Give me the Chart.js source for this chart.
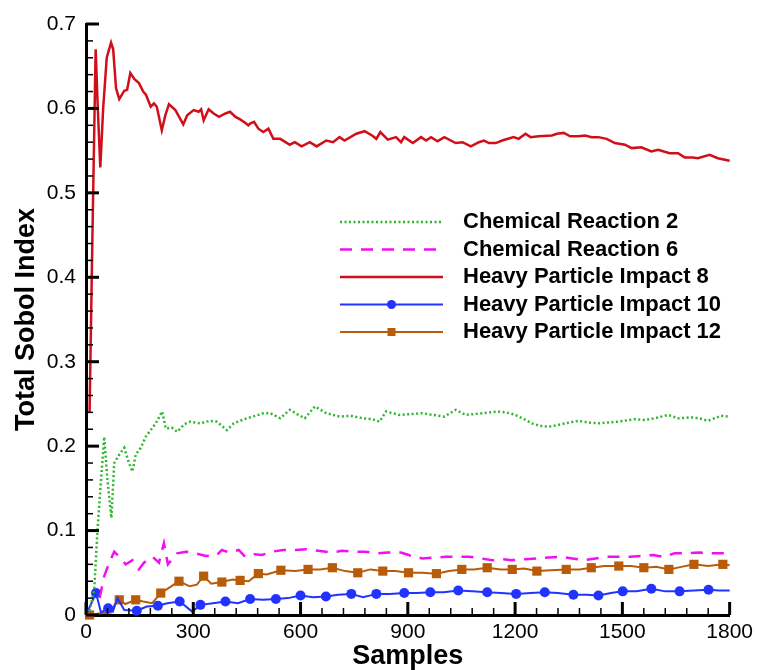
<!DOCTYPE html>
<html>
<head>
<meta charset="utf-8">
<title>Total Sobol Index</title>
<script src="https://cdn.jsdelivr.net/npm/chart.js@4.4.1/dist/chart.umd.min.js"></script>
<style>
    html, body { margin: 0; padding: 0; background: #fff; }
    #wrap { width: 758px; height: 670px; }
</style>
</head>
<body>
<div id="wrap"><canvas id="sobolChart" width="758" height="670"></canvas></div>
<script>
// Series labels
const seriesNames = [
    'Chemical Reaction 2',
    'Chemical Reaction 6',
    'Heavy Particle Impact 8',
    'Heavy Particle Impact 10',
    'Heavy Particle Impact 12'
];

// Axis ticks
const xTicks = [0, 300, 600, 900, 1200, 1500, 1800];
const yTicks = [0, 0.1, 0.2, 0.3, 0.4, 0.5, 0.6, 0.7];

// Chemical Reaction 2
const cr2Samples = [10, 23, 32, 42, 51, 60, 71, 79, 93, 107, 120, 130, 139, 153, 167, 195, 213, 223, 240, 255, 275, 292, 320, 345, 366, 394, 413, 450, 482, 496, 515, 530, 543, 570, 590, 612, 640, 672, 710, 740, 774, 800, 821, 839, 876, 910, 941, 970, 1002, 1034, 1062, 1108, 1150, 1175, 1201, 1225, 1247, 1270, 1294, 1320, 1340, 1377, 1405, 1433, 1460, 1489, 1535, 1560, 1591, 1628, 1656, 1693, 1715, 1739, 1776, 1800];
const cr2Values = [0.005, 0.03, 0.10, 0.16, 0.211, 0.16, 0.115, 0.18, 0.19, 0.198, 0.18, 0.170, 0.19, 0.198, 0.211, 0.227, 0.241, 0.221, 0.222, 0.217, 0.226, 0.229, 0.227, 0.230, 0.229, 0.219, 0.227, 0.233, 0.237, 0.239, 0.239, 0.236, 0.233, 0.243, 0.238, 0.233, 0.247, 0.239, 0.235, 0.236, 0.233, 0.232, 0.229, 0.241, 0.237, 0.238, 0.239, 0.237, 0.235, 0.243, 0.237, 0.239, 0.241, 0.240, 0.237, 0.232, 0.227, 0.224, 0.223, 0.225, 0.227, 0.230, 0.228, 0.227, 0.228, 0.229, 0.232, 0.231, 0.233, 0.237, 0.233, 0.234, 0.233, 0.230, 0.236, 0.235];

// Chemical Reaction 6
const cr6Samples = [38, 51, 65, 79, 93, 111, 130, 148, 162, 186, 204, 218, 229, 255, 280, 306, 335, 366, 380, 400, 427, 445, 470, 492, 520, 552, 585, 617, 650, 686, 715, 747, 780, 812, 845, 881, 910, 941, 975, 1006, 1040, 1071, 1105, 1136, 1165, 1192, 1228, 1261, 1295, 1326, 1360, 1391, 1425, 1456, 1490, 1521, 1555, 1586, 1615, 1646, 1680, 1716, 1750, 1781, 1800];
const cr6Values = [0.02, 0.046, 0.062, 0.075, 0.069, 0.060, 0.065, 0.054, 0.062, 0.069, 0.062, 0.085, 0.060, 0.073, 0.075, 0.073, 0.070, 0.071, 0.077, 0.074, 0.077, 0.069, 0.072, 0.071, 0.075, 0.077, 0.077, 0.078, 0.076, 0.074, 0.076, 0.075, 0.075, 0.073, 0.074, 0.074, 0.070, 0.067, 0.068, 0.069, 0.069, 0.069, 0.067, 0.065, 0.066, 0.065, 0.066, 0.067, 0.068, 0.069, 0.067, 0.065, 0.067, 0.069, 0.069, 0.069, 0.070, 0.071, 0.069, 0.073, 0.073, 0.074, 0.073, 0.073, 0.073];

// Heavy Particle Impact 8
const hpi8Samples = [10, 18, 27, 33, 40, 48, 58, 70, 76, 84, 93, 107, 115, 124, 135, 148, 160, 168, 181, 190, 198, 212, 222, 232, 250, 272, 283, 301, 315, 322, 329, 343, 357, 372, 390, 403, 418, 431, 445, 454, 459, 470, 482, 496, 510, 524, 543, 570, 584, 603, 626, 645, 672, 691, 709, 723, 756, 779, 800, 812, 823, 844, 867, 881, 890, 914, 937, 951, 965, 983, 1002, 1034, 1053, 1076, 1099, 1113, 1127, 1146, 1164, 1196, 1210, 1229, 1243, 1266, 1303, 1317, 1336, 1354, 1377, 1396, 1414, 1433, 1456, 1479, 1507, 1526, 1553, 1581, 1600, 1632, 1656, 1674, 1697, 1711, 1744, 1767, 1800];
const hpi8Values = [0.24, 0.45, 0.67, 0.60, 0.53, 0.60, 0.66, 0.678, 0.67, 0.624, 0.611, 0.621, 0.622, 0.642, 0.635, 0.630, 0.620, 0.616, 0.602, 0.606, 0.602, 0.574, 0.592, 0.605, 0.598, 0.581, 0.592, 0.598, 0.596, 0.599, 0.586, 0.599, 0.594, 0.590, 0.594, 0.596, 0.590, 0.587, 0.583, 0.580, 0.582, 0.584, 0.576, 0.572, 0.576, 0.564, 0.564, 0.557, 0.560, 0.555, 0.560, 0.555, 0.562, 0.560, 0.566, 0.562, 0.570, 0.573, 0.568, 0.564, 0.572, 0.563, 0.566, 0.560, 0.566, 0.559, 0.566, 0.562, 0.566, 0.561, 0.566, 0.559, 0.560, 0.555, 0.560, 0.562, 0.559, 0.559, 0.562, 0.566, 0.564, 0.570, 0.566, 0.567, 0.568, 0.570, 0.571, 0.567, 0.567, 0.568, 0.566, 0.566, 0.564, 0.559, 0.557, 0.553, 0.554, 0.549, 0.551, 0.547, 0.547, 0.542, 0.542, 0.541, 0.545, 0.541, 0.538];

// Heavy Particle Impact 10 (circles on marked samples)
const hpi10Samples = [0, 28, 42, 62, 75, 88, 107, 142, 170, 201, 227, 262, 297, 320, 355, 390, 425, 459, 495, 531, 565, 600, 635, 671, 705, 742, 775, 812, 850, 890, 925, 963, 1000, 1041, 1080, 1122, 1160, 1203, 1243, 1283, 1320, 1363, 1400, 1433, 1468, 1501, 1540, 1581, 1620, 1660, 1700, 1741, 1770, 1800];
const hpi10Values = [0.0, 0.026, 0.003, 0.008, 0.004, 0.020, 0.006, 0.005, 0.010, 0.011, 0.014, 0.016, 0.004, 0.012, 0.014, 0.016, 0.014, 0.019, 0.018, 0.019, 0.020, 0.023, 0.021, 0.022, 0.024, 0.025, 0.021, 0.025, 0.025, 0.026, 0.026, 0.027, 0.027, 0.029, 0.028, 0.027, 0.026, 0.025, 0.026, 0.027, 0.026, 0.024, 0.024, 0.023, 0.026, 0.028, 0.028, 0.031, 0.028, 0.028, 0.029, 0.030, 0.029, 0.029];
const hpi10Marked = [28, 62, 142, 201, 262, 320, 390, 459, 531, 600, 671, 742, 812, 890, 963, 1041, 1122, 1203, 1283, 1363, 1433, 1501, 1581, 1660, 1741];

// Heavy Particle Impact 12 (squares on marked samples)
const hpi12Samples = [10, 40, 70, 80, 93, 110, 139, 160, 185, 209, 235, 260, 290, 310, 329, 350, 380, 410, 431, 455, 482, 505, 545, 585, 621, 655, 689, 725, 760, 795, 830, 865, 902, 940, 980, 1015, 1051, 1085, 1122, 1160, 1192, 1225, 1261, 1300, 1343, 1380, 1413, 1450, 1490, 1525, 1560, 1595, 1630, 1665, 1700, 1740, 1781, 1800];
const hpi12Values = [0.0, 0.002, 0.003, 0.012, 0.018, 0.013, 0.018, 0.016, 0.014, 0.026, 0.033, 0.040, 0.034, 0.036, 0.046, 0.037, 0.039, 0.042, 0.041, 0.040, 0.049, 0.048, 0.053, 0.052, 0.054, 0.054, 0.056, 0.052, 0.050, 0.054, 0.052, 0.052, 0.050, 0.050, 0.049, 0.052, 0.054, 0.054, 0.056, 0.054, 0.054, 0.055, 0.052, 0.053, 0.054, 0.054, 0.056, 0.058, 0.058, 0.058, 0.056, 0.057, 0.054, 0.057, 0.060, 0.058, 0.060, 0.059];
const hpi12Marked = [10, 93, 139, 209, 260, 329, 380, 431, 482, 545, 621, 689, 760, 830, 902, 980, 1051, 1122, 1192, 1261, 1343, 1413, 1490, 1560, 1630, 1700, 1781];

const FONT = '"Liberation Sans", Arial, Helvetica, sans-serif';

function toPoints(samples, values) {
    return samples.map((s, i) => ({ x: s, y: values[i] }));
}

function markAt(list, radius) {
    const set = new Set(list);
    return ctx => (ctx.raw && set.has(ctx.raw.x)) ? radius : 0;
}

// Inward major/minor ticks like the plotting package draws them
const insideTicks = {
    id: 'insideTicks',
    afterDraw(chart) {
        const { ctx, chartArea, scales } = chart;
        const x = scales.x, y = scales.y;
        ctx.save();
        ctx.strokeStyle = '#000';
        ctx.lineCap = 'butt';

        for (let v = 0; v <= 1800; v += 60) {
            const px = x.getPixelForValue(v);
            const major = xTicks.includes(v);
            ctx.lineWidth = major ? 3 : 1.5;
            ctx.beginPath();
            ctx.moveTo(px, chartArea.bottom);
            ctx.lineTo(px, chartArea.bottom - (major ? 13 : 7));
            ctx.stroke();
        }
        for (let k = 0; k <= 35; k++) {
            const v = k * 0.02;
            const py = y.getPixelForValue(v);
            const major = k % 5 === 0;
            ctx.lineWidth = major ? 3 : 1.5;
            ctx.beginPath();
            ctx.moveTo(chartArea.left, py);
            ctx.lineTo(chartArea.left + (major ? 13 : 7), py);
            ctx.stroke();
        }
        ctx.restore();
    }
};

// Legend block inside the plot
const sampleLegend = {
    id: 'sampleLegend',
    afterDraw(chart) {
        const { ctx } = chart;
        const x0 = 340, x1 = 443, textX = 463;
        ctx.save();
        chart.data.datasets.forEach((ds, i) => {
            const yy = 222 + i * 27.5;
            ctx.strokeStyle = ds.borderColor;
            ctx.lineWidth = ds.borderWidth;
            ctx.setLineDash(ds.borderDash || []);
            ctx.beginPath();
            ctx.moveTo(x0, yy);
            ctx.lineTo(x1, yy);
            ctx.stroke();
            ctx.setLineDash([]);
            if (ds.legendMarker) {
                ctx.fillStyle = ds.borderColor;
                ctx.beginPath();
                if (ds.pointStyle === 'rect') {
                    ctx.rect((x0 + x1) / 2 - 4, yy - 4, 8, 8);
                } else {
                    ctx.arc((x0 + x1) / 2, yy, 4.5, 0, Math.PI * 2);
                }
                ctx.fill();
            }
            ctx.fillStyle = '#000';
            ctx.font = 'bold 22px ' + FONT;
            ctx.textAlign = 'left';
            ctx.textBaseline = 'middle';
            ctx.fillText(ds.label, textX, yy);
        });
        ctx.restore();
    }
};

const chart = new Chart(document.getElementById('sobolChart'), {
    type: 'line',
    data: {
        datasets: [
            {
                label: seriesNames[0],
                data: toPoints(cr2Samples, cr2Values),
                borderColor: '#2fb52f',
                borderWidth: 2.5,
                borderDash: [2, 2.5],
                pointRadius: 0
            },
            {
                label: seriesNames[1],
                data: toPoints(cr6Samples, cr6Values),
                borderColor: '#f010f0',
                borderWidth: 2.5,
                borderDash: [12, 9],
                pointRadius: 0
            },
            {
                label: seriesNames[2],
                data: toPoints(hpi8Samples, hpi8Values),
                borderColor: '#d10f1b',
                borderWidth: 2.5,
                pointRadius: 0
            },
            {
                label: seriesNames[3],
                data: toPoints(hpi10Samples, hpi10Values),
                borderColor: '#2233ff',
                backgroundColor: '#2233ff',
                borderWidth: 2,
                pointStyle: 'circle',
                pointRadius: markAt(hpi10Marked, 5),
                pointBorderWidth: 0,
                legendMarker: true
            },
            {
                label: seriesNames[4],
                data: toPoints(hpi12Samples, hpi12Values),
                borderColor: '#b85c0a',
                backgroundColor: '#b85c0a',
                borderWidth: 2,
                pointStyle: 'rect',
                pointRadius: markAt(hpi12Marked, 6.5),
                pointBorderWidth: 0,
                legendMarker: true
            }
        ]
    },
    options: {
        responsive: false,
        animation: false,
        clip: false,
        layout: { padding: { left: 0, right: 24, top: 24, bottom: 0 } },
        elements: { line: { tension: 0 } },
        plugins: {
            legend: { display: false },
            tooltip: { enabled: false }
        },
        scales: {
            x: {
                type: 'linear',
                min: 0,
                max: 1800,
                afterFit: scale => { scale.height = 55; },
                afterBuildTicks: scale => { scale.ticks = xTicks.map(v => ({ value: v })); },
                grid: { display: false, drawTicks: false },
                border: { display: true, width: 3, color: '#000' },
                ticks: {
                    color: '#000',
                    padding: 5,
                    maxRotation: 0,
                    callback: v => String(v),
                    font: { family: FONT, size: 21 }
                },
                title: {
                    display: true,
                    text: 'Samples',
                    color: '#000',
                    padding: { top: 0, bottom: 0 },
                    font: { family: FONT, size: 27, weight: 'bold', lineHeight: 1 }
                }
            },
            y: {
                type: 'linear',
                min: 0,
                max: 0.7,
                afterFit: scale => { scale.width = 86; },
                afterBuildTicks: scale => { scale.ticks = yTicks.map(v => ({ value: v })); },
                grid: { display: false, drawTicks: false },
                border: { display: true, width: 3, color: '#000' },
                ticks: {
                    color: '#000',
                    padding: 10,
                    callback: v => String(Math.round(v * 10) / 10),
                    font: { family: FONT, size: 21 }
                },
                title: {
                    display: true,
                    text: 'Total Sobol Index',
                    color: '#000',
                    padding: { top: 10, bottom: 0 },
                    font: { family: FONT, size: 27, weight: 'bold' }
                }
            }
        }
    },
    plugins: [insideTicks, sampleLegend]
});
</script>
</body>
</html>
